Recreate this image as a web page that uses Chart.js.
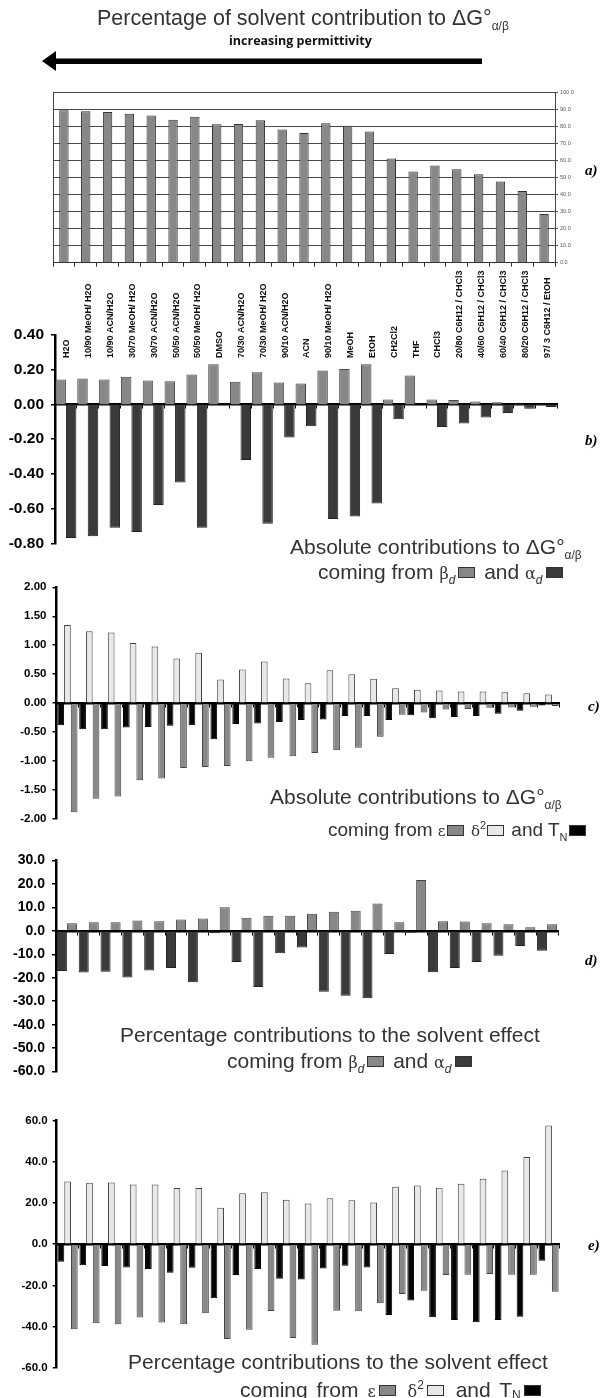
<!DOCTYPE html>
<html>
<head>
<meta charset="utf-8">
<script src="https://cdn.jsdelivr.net/npm/chart.js@4.4.0/dist/chart.umd.min.js"></script>
<style>
  body { margin: 0; background: #fff; width: 612px; height: 1398px; position: relative; overflow: hidden;
         font-family: Arial, "Liberation Sans", sans-serif; }
  canvas { position: absolute; left: 0; }
  .t { position: absolute; white-space: nowrap; color: #333; font-size: 21px; line-height: 24px; z-index: 5; }
  .t sub { font-size: 12px; vertical-align: -5px; }
  .g { font-family: "DejaVu Serif", serif; font-size: 16px; }
  .box { display: inline-block; width: 15px; height: 9px; border: 1px solid #333; vertical-align: middle; margin: 0 3px 2px 3px; }
  .tag { position: absolute; font-family: "Liberation Serif", "Times New Roman", serif; font-style: italic; font-weight: bold; font-size: 15px; z-index: 5; }
</style>
</head>
<body>

<div class="t" style="left:97px; top:6px; font-size:21.5px;">Percentage of solvent contribution to &Delta;G&deg;<sub>&alpha;/&beta;</sub></div>
<div class="t" style="left:229px; top:33px; font-size:12.5px; line-height:15px; font-weight:bold; color:#111; font-family:'Open Sans', Arial, sans-serif;">increasing permittivity</div>
<svg style="position:absolute; left:0; top:0; z-index:4" width="612" height="90">
  <rect x="54" y="58.5" width="428" height="5.5" fill="#000"/>
  <polygon points="42,61 56,51 56,71" fill="#000"/>
</svg>

<canvas id="chartA"></canvas>
<canvas id="chartB"></canvas>
<canvas id="chartC"></canvas>
<canvas id="chartD"></canvas>
<canvas id="chartE"></canvas>

<div class="tag" style="left:585px; top:162px;">a)</div>
<div class="tag" style="left:585px; top:432px;">b)</div>
<div class="tag" style="left:588px; top:698px;">c)</div>
<div class="tag" style="left:585px; top:952px;">d)</div>
<div class="tag" style="left:588px; top:1237px;">e)</div>

<div class="t" style="left:290px; top:535px;">Absolute contributions to &Delta;G&deg;<sub>&alpha;/&beta;</sub></div>
<div class="t" style="left:318px; top:560px;">coming from <span class="g">&beta;</span><sub><i>d</i></sub><span class="box" style="background:#888"></span> and <span class="g">&alpha;</span><sub><i>d</i></sub><span class="box" style="background:#3a3a3a"></span></div>

<div class="t" style="left:270px; top:785px;">Absolute contributions to &Delta;G&deg;<sub>&alpha;/&beta;</sub></div>
<div class="t" style="left:328px; top:813px; font-size:19px;">coming from <span class="g" style="font-size:15px">&epsilon;</span><span class="box" style="background:#888; margin:0 2px 2px 1px"></span> <span class="g" style="font-size:15px">&delta;</span><sup style="font-size:11px">2</sup><span class="box" style="background:#e8e8e8; margin:0 2px 2px 1px"></span> and T<sub style="font-size:11px">N</sub><span class="box" style="background:#000; margin:0 0 2px 1px"></span></div>

<div class="t" style="left:120px; top:1023px;">Percentage contributions to the solvent effect</div>
<div class="t" style="left:227px; top:1049px;">coming from <span class="g">&beta;</span><sub><i>d</i></sub><span class="box" style="background:#888"></span> and <span class="g">&alpha;</span><sub><i>d</i></sub><span class="box" style="background:#3a3a3a"></span></div>

<div class="t" style="left:128px; top:1350px;">Percentage contributions to the solvent effect</div>
<div class="t" style="left:240px; top:1373px; word-spacing:3px;">coming from <span class="g">&epsilon;</span><span class="box" style="background:#888"></span> <span class="g">&delta;</span><sup style="font-size:12px">2</sup><span class="box" style="background:#e8e8e8"></span> and T<sub style="vertical-align:-2px">N</sub><span class="box" style="background:#000"></span></div>

<script>
// solvents, ordered by decreasing permittivity
const solvents = ['H2O', '10/90 MeOH/ H2O', '10/90 ACN/H2O', '30/70 MeOH/ H2O', '30/70 ACN/H2O',
  '50/50 ACN/H2O', '50/50 MeOH/ H2O', 'DMSO', '70/30 ACN/H2O', '70/30 MeOH/ H2O', '90/10 ACN/H2O',
  'ACN', '90/10 MeOH/ H2O', 'MeOH', 'EtOH', 'CH2Cl2', 'THF', 'CHCl3', '20/80 C6H12 / CHCl3',
  '40/60 C6H12 / CHCl3', '60/40 C6H12 / CHCl3', '80/20 C6H12 / CHCl3', '97/ 3 C6H12 / EtOH'];

// a) percentage of solvent contribution
const pctSolvent = [89.3, 88.7, 88.3, 87.3, 86.3, 83.8, 85.5, 81.1, 81.3, 83.4, 78.1, 76.0,
  81.7, 80.3, 76.8, 61.0, 53.4, 57.0, 54.7, 51.8, 47.6, 42.0, 28.5];

// b) absolute contributions, beta_d and alpha_d
const absBeta = [0.144, 0.150, 0.144, 0.159, 0.138, 0.133, 0.173, 0.231, 0.130, 0.185, 0.127, 0.121,
  0.196, 0.204, 0.231, 0.029, 0.167, 0.029, 0.025, 0.017, 0.013, 0.004, 0.003];
const absAlpha = [-0.77, -0.76, -0.71, -0.735, -0.58, -0.45, -0.71, -0.005, -0.32, -0.687, -0.19, -0.125,
  -0.66, -0.645, -0.57, -0.085, -0.005, -0.13, -0.11, -0.075, -0.05, -0.025, -0.015];

// c) absolute contributions, T_N, delta^2 and epsilon
const absTN = [-0.38, -0.45, -0.45, -0.42, -0.41, -0.39, -0.38, -0.62, -0.36, -0.35, -0.325, -0.29,
  -0.28, -0.22, -0.22, -0.29, -0.21, -0.26, -0.24, -0.22, -0.18, -0.13, -0.04];
const absDelta2 = [1.35, 1.24, 1.22, 1.04, 0.98, 0.77, 0.87, 0.41, 0.58, 0.72, 0.425, 0.345,
  0.57, 0.50, 0.42, 0.26, 0.23, 0.22, 0.20, 0.20, 0.19, 0.17, 0.15];
const absEps = [-1.88, -1.65, -1.61, -1.33, -1.30, -1.12, -1.10, -1.085, -1.0, -0.94, -0.915, -0.86,
  -0.81, -0.77, -0.58, -0.20, -0.16, -0.11, -0.10, -0.08, -0.075, -0.06, -0.05];

// d) percentage contributions, alpha_d and beta_d
const pctAlpha = [-17.1, -17.8, -17.4, -19.9, -16.9, -15.8, -21.9, -1.0, -13.3, -23.9, -9.6, -7.1,
  -26.0, -27.7, -28.7, -9.9, -0.8, -17.7, -15.8, -13.3, -10.6, -6.5, -8.5];
const pctBeta = [3.2, 3.6, 3.6, 4.4, 4.1, 4.8, 5.2, 10.0, 5.6, 6.4, 6.4, 7.3,
  8.1, 8.5, 11.6, 3.6, 21.7, 4.1, 4.0, 3.2, 2.8, 1.5, 2.8];

// e) percentage contributions, T_N, delta^2 and epsilon
const pctTN = [-8.5, -10.2, -10.6, -11.3, -12.1, -13.9, -11.5, -26.3, -15.0, -12.1, -16.8, -17.1,
  -11.8, -10.5, -11.3, -34.4, -27.4, -35.5, -36.8, -37.9, -36.8, -35.2, -8.1];
const pctDelta2 = [30.5, 29.8, 30.0, 29.0, 29.0, 27.3, 27.3, 17.7, 24.8, 25.2, 21.6, 19.8,
  22.3, 21.3, 20.2, 27.9, 28.5, 27.4, 29.4, 31.8, 35.8, 42.4, 57.7];
const pctEps = [-41.3, -38.4, -38.9, -35.6, -38.1, -38.9, -33.5, -46.1, -41.6, -32.4, -45.6, -48.9,
  -32.3, -32.6, -28.7, -24.2, -22.6, -15.0, -14.8, -14.5, -14.8, -14.8, -23.1];

Chart.defaults.font.family = 'Arial, "Liberation Sans", sans-serif';
Chart.defaults.color = '#000';

const GRAY = '#888888', DARK = '#3a3a3a', LIGHT = '#e8e8e8', BLACK = '#050505';

function bars(data, color, border) {
  return { data: data, backgroundColor: color, borderColor: border || '#333', borderWidth: 1,
           barPercentage: 1, categoryPercentage: 0.92 };
}

// place a canvas at a given top with a given height
function setup(id, top, height) {
  const c = document.getElementById(id);
  c.width = 612; c.height = height;
  c.style.top = top + 'px';
  return c;
}

// left frame line for panel a
const leftEdge = {
  id: 'leftEdge',
  afterDraw(chart) {
    const { ctx, chartArea: a } = chart;
    ctx.save();
    ctx.strokeStyle = '#444';
    ctx.lineWidth = 1;
    ctx.beginPath();
    ctx.moveTo(a.left + 0.5, a.top);
    ctx.lineTo(a.left + 0.5, a.bottom);
    ctx.stroke();
    ctx.restore();
  }
};

// vertical solvent names above panel b
const solventLabels = {
  id: 'solventLabels',
  afterDraw(chart) {
    const { ctx, chartArea } = chart;
    const x = chart.scales.x;
    ctx.save();
    ctx.font = 'bold 9px Arial, "Liberation Sans", sans-serif';
    ctx.fillStyle = '#111';
    ctx.textAlign = 'left';
    ctx.textBaseline = 'middle';
    solvents.forEach((s, i) => {
      ctx.save();
      ctx.translate(x.getPixelForValue(i) + 1, chartArea.top + 23);
      ctx.rotate(-Math.PI / 2);
      ctx.fillText(s, 0, 0);
      ctx.restore();
    });
    ctx.restore();
  }
};

// a) -----------------------------------------------------------
const topA = 80;
new Chart(setup('chartA', topA, 195), {
  type: 'bar',
  data: { labels: solvents, datasets: [{ data: pctSolvent, backgroundColor: '#878787', borderColor: '#333',
          borderWidth: 1, barPercentage: 0.43, categoryPercentage: 1 }] },
  options: {
    responsive: false, animation: false, devicePixelRatio: 1,
    layout: { padding: { left: 53, right: 0, top: 92 - topA, bottom: 275 - 262.7 - 5 } },
    plugins: { legend: { display: false }, tooltip: { enabled: false } },
    scales: {
      x: {
        ticks: { display: false },
        grid: { drawOnChartArea: false, drawTicks: true, tickLength: 4, color: '#333' },
        border: { display: true, color: '#333', width: 1 },
        afterFit: s => { s.height = 5; }
      },
      y: {
        position: 'right', min: 0, max: 100,
        ticks: { stepSize: 10, font: { size: 5.5 }, color: '#555', padding: 2,
                 callback: v => v.toFixed(1) },
        grid: { color: '#4a4a4a', lineWidth: 1, drawTicks: true, tickLength: 3, tickColor: '#555' },
        border: { display: true, color: '#444', width: 1 },
        afterFit: s => { s.width = 612 - 555; }
      }
    }
  },
  plugins: [leftEdge]
});

// shared axis styles for the lower panels
function lowerOptions(area, top, height, yMin, yMax, step, digits, fontSize, pad) {
  return {
    responsive: false, animation: false, devicePixelRatio: 1,
    layout: { padding: { left: 0, right: 612 - area.right, top: area.top - top,
                         bottom: top + height - area.bottom } },
    plugins: { legend: { display: false }, tooltip: { enabled: false } },
    scales: {
      x: {
        position: { y: 0 },
        ticks: { display: false },
        grid: { drawOnChartArea: false, drawTicks: true, tickLength: 3, color: '#000' },
        border: { display: true, color: '#000', width: 2.5 }
      },
      y: {
        min: yMin, max: yMax,
        ticks: { stepSize: step, font: { size: fontSize, weight: 'bold' }, color: '#000', padding: pad,
                 callback: v => v.toFixed(digits) },
        grid: { drawOnChartArea: false, drawTicks: true, tickLength: 4, tickColor: '#000', lineWidth: 1.5 },
        border: { display: true, color: '#000', width: 2.5 },
        afterFit: s => { s.width = area.left; }
      }
    }
  };
}

// b) -----------------------------------------------------------
const topB = 262, hB = 298;
new Chart(setup('chartB', topB, hB), {
  type: 'bar',
  data: { labels: solvents, datasets: [
    Object.assign(bars(absBeta, GRAY, '#444'), { categoryPercentage: 0.96 }),
    Object.assign(bars(absAlpha, DARK, '#222'), { categoryPercentage: 0.96 })
  ] },
  options: lowerOptions({ left: 55, right: 557, top: 335, bottom: 543.3 }, topB, hB, -0.8, 0.4, 0.2, 2, 15.5, 7),
  plugins: [solventLabels]
});

// c) -----------------------------------------------------------
const topC = 572, hC = 260;
new Chart(setup('chartC', topC, hC), {
  type: 'bar',
  data: { labels: solvents, datasets: [
    bars(absTN, BLACK, '#000'),
    bars(absDelta2, LIGHT, '#444'),
    bars(absEps, GRAY, '#444')
  ] },
  options: lowerOptions({ left: 56.5, right: 559.5, top: 587.3, bottom: 821 }, topC, hC, -2, 2, 0.5, 2, 11.5, 6)
});

// d) -----------------------------------------------------------
const topD = 845, hD = 242;
new Chart(setup('chartD', topD, hD), {
  type: 'bar',
  data: { labels: solvents, datasets: [
    bars(pctAlpha, DARK, '#222'),
    bars(pctBeta, GRAY, '#444')
  ] },
  options: lowerOptions({ left: 56, right: 558, top: 858.3, bottom: 1077.3 }, topD, hD, -60, 30, 10, 1, 14, 7)
});

// e) -----------------------------------------------------------
const topE = 1108, hE = 272;
new Chart(setup('chartE', topE, hE), {
  type: 'bar',
  data: { labels: solvents, datasets: [
    bars(pctTN, BLACK, '#000'),
    bars(pctDelta2, LIGHT, '#444'),
    bars(pctEps, GRAY, '#444')
  ] },
  options: lowerOptions({ left: 56.7, right: 559.5, top: 1120.7, bottom: 1367.7 }, topE, hE, -60, 60, 20, 1, 11.5, 5)
});
</script>
</body>
</html>
